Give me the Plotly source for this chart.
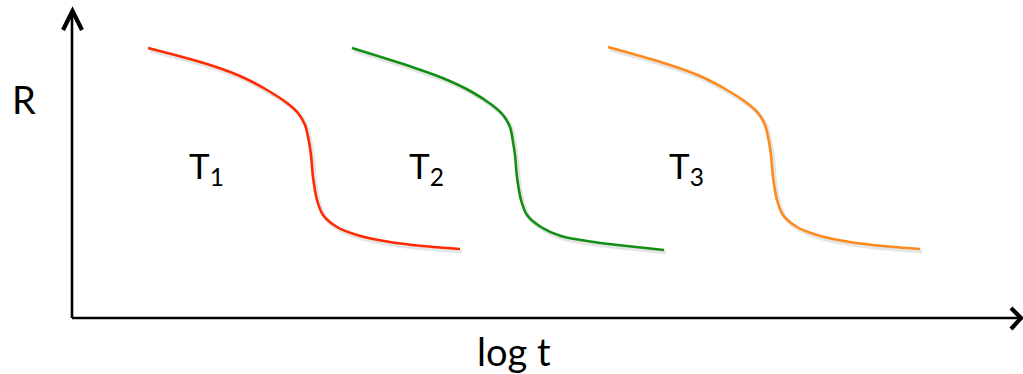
import plotly.graph_objects as go

# R versus log t at three temperatures (arbitrary units)
labels = ["T<sub>1</sub>", "T<sub>2</sub>", "T<sub>3</sub>"]
colors = ["#FF2A00", "#138F13", "#FF8A1C"]

logt_T1 = [0.76, 1.35, 1.68, 1.95, 2.15, 2.26, 2.33, 2.37, 2.39,
           2.41, 2.45, 2.51, 2.65, 2.85, 3.18, 3.51, 3.88]
R_T1 = [2.70, 2.54, 2.42, 2.28, 2.15, 2.05, 1.93, 1.76, 1.63,
        1.41, 1.18, 1.03, 0.91, 0.83, 0.76, 0.72, 0.69]

logt_T2 = [2.80, 3.40, 3.73, 4.00, 4.20, 4.31, 4.38, 4.41, 4.43,
           4.45, 4.49, 4.55, 4.69, 4.89, 5.22, 5.55, 5.92]
R_T2 = [2.70, 2.51, 2.39, 2.26, 2.13, 2.03, 1.91, 1.76, 1.63,
        1.41, 1.18, 1.03, 0.91, 0.82, 0.76, 0.72, 0.68]

logt_T3 = [5.36, 5.95, 6.28, 6.55, 6.75, 6.86, 6.93, 6.97, 6.99,
           7.01, 7.05, 7.11, 7.25, 7.45, 7.78, 8.11, 8.48]
R_T3 = [2.71, 2.54, 2.42, 2.28, 2.15, 2.05, 1.93, 1.76, 1.63,
        1.41, 1.18, 1.03, 0.91, 0.83, 0.76, 0.72, 0.69]

series = [(logt_T1, R_T1), (logt_T2, R_T2), (logt_T3, R_T3)]
label_pos = [(1.15, 1.51), (3.35, 1.51), (5.95, 1.51)]

FONT = "Lato"
fig = go.Figure()

# soft drop shadow under each curve
for xs, ys in series:
    fig.add_trace(go.Scatter(
        x=[v + 0.02 for v in xs], y=[v - 0.025 for v in ys], mode="lines",
        line=dict(color="rgba(0,0,0,0.10)", width=4, shape="spline", smoothing=0.9),
        hoverinfo="skip", showlegend=False))

for (xs, ys), c in zip(series, colors):
    fig.add_trace(go.Scatter(
        x=xs, y=ys, mode="lines",
        line=dict(color=c, width=2.6, shape="spline", smoothing=0.9),
        showlegend=False))

for text, (lx, ly) in zip(labels, label_pos):
    fig.add_annotation(x=lx, y=ly, text=text, showarrow=False,
                       xanchor="left", yanchor="middle",
                       font=dict(family=FONT, size=35, color="black"))

# axes with open arrow heads
axis_style = dict(color="black", width=2.6)
fig.add_shape(type="line", x0=0, y0=0, x1=0, y1=3.07, line=axis_style)
fig.add_shape(type="line", x0=0, y0=0, x1=9.48, y1=0, line=axis_style)
head = dict(color="black", width=4.2)
fig.add_shape(type="path", path="M -0.09,2.88 L 0.005,3.07 L 0.10,2.88", line=head)
fig.add_shape(type="path", path="M 9.39,0.10 L 9.49,0.0 L 9.39,-0.11", line=head)

fig.add_annotation(x=-0.48, y=2.19, text="R", showarrow=False,
                   xanchor="center", yanchor="middle",
                   font=dict(family=FONT, size=38, color="black"))
fig.add_annotation(x=4.42, y=-0.33, text="log t", showarrow=False,
                   xanchor="center", yanchor="middle",
                   font=dict(family=FONT, size=38, color="black"))

fig.update_layout(
    width=1023, height=374, margin=dict(l=0, r=0, t=0, b=0),
    plot_bgcolor="white", paper_bgcolor="white",
    xaxis=dict(range=[-0.72, 9.51], visible=False, fixedrange=True),
    yaxis=dict(range=[-0.56, 3.18], visible=False, fixedrange=True),
)

fig.write_html("out.html")
